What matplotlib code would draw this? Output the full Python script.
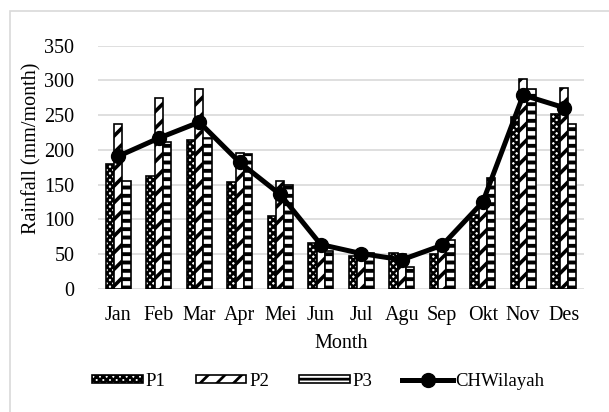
import matplotlib
matplotlib.use("Agg")
import matplotlib.pyplot as plt
from matplotlib.patches import Rectangle
import numpy as np

months = ["Jan", "Feb", "Mar", "Apr", "Mei", "Jun", "Jul", "Agu", "Sep", "Okt", "Nov", "Des"]
p1 = [180, 163, 215, 154, 105, 66, 47, 52, 51, 107, 248, 252]
p2 = [237, 275, 288, 196, 155, 66, 51, 51, 57, 130, 302, 289]
p3 = [156, 212, 217, 194, 149, 54, 52, 32, 71, 159, 287, 238]
chwilayah = [191, 217, 240, 182, 136, 64, 51, 42, 63, 125, 279, 261]

plt.rcParams['font.family'] = ['Liberation Serif', 'DejaVu Serif']
plt.rcParams['hatch.linewidth'] = 2.0

fig = plt.figure(figsize=(6.09, 4.12), dpi=100)
ax = fig.add_axes([98/609, 1-289/412, (584-98)/609, (289-45.7)/412])

x = np.arange(len(months))
w = 0.205


def hatch_lw(container, lw):
    for b in container:
        if hasattr(b, 'set_hatch_linewidth'):
            b.set_hatch_linewidth(lw)


b1 = ax.bar(x - w, p1, w, color='white', edgecolor='black', linewidth=1.2,
            hatch='xxxxx', label='P1', zorder=2)
hatch_lw(b1, 1.8)
b2 = ax.bar(x, p2, w, color='white', edgecolor='black', linewidth=1.2,
            hatch='//', label='P2', zorder=2)
hatch_lw(b2, 2.6)
b3 = ax.bar(x + w, p3, w, color='white', edgecolor='black', linewidth=1.2,
            hatch='--', label='P3', zorder=2)
hatch_lw(b3, 2.8)

ln, = ax.plot(x, chwilayah, color='black', linewidth=3.6, marker='o', markersize=10,
              label='CHWilayah', zorder=3)

ax.set_xlim(-0.5, 11.5)
ax.set_ylim(0, 350)
ax.set_yticks(range(0, 351, 50))
ax.set_xticks(x)
ax.set_xticklabels(months)
ax.tick_params(axis='both', length=0, labelsize=14.5)
ax.tick_params(axis='y', pad=17)
ax.tick_params(axis='x', pad=12)
for s in ax.spines.values():
    s.set_visible(False)
ax.yaxis.grid(True, color='#d9d9d9', linewidth=1.2, zorder=0)
ax.set_axisbelow(True)

ax.set_xlabel('Month', fontsize=14.5, labelpad=7)
fig.text(32/609, 1-148/412, 'Rainfall (mm/month)', rotation=90, fontsize=14.5,
         ha='center', va='center')

leg = fig.legend([b1, b2, b3, ln], ['P1', 'P2', 'P3', 'CHWilayah'],
                 loc='center', bbox_to_anchor=(0.523, 1-381/412), ncol=4, frameon=False,
                 fontsize=13.5, handlelength=2.7, handleheight=0.25, handletextpad=0.15,
                 columnspacing=1.6)

fig.patches.append(Rectangle((10/609, -0.1), 1.2, 1.1 - 11/412, transform=fig.transFigure,
                             fill=False, edgecolor='#d9d9d9', linewidth=1.2))

fig.savefig('out.png', dpi=100)
